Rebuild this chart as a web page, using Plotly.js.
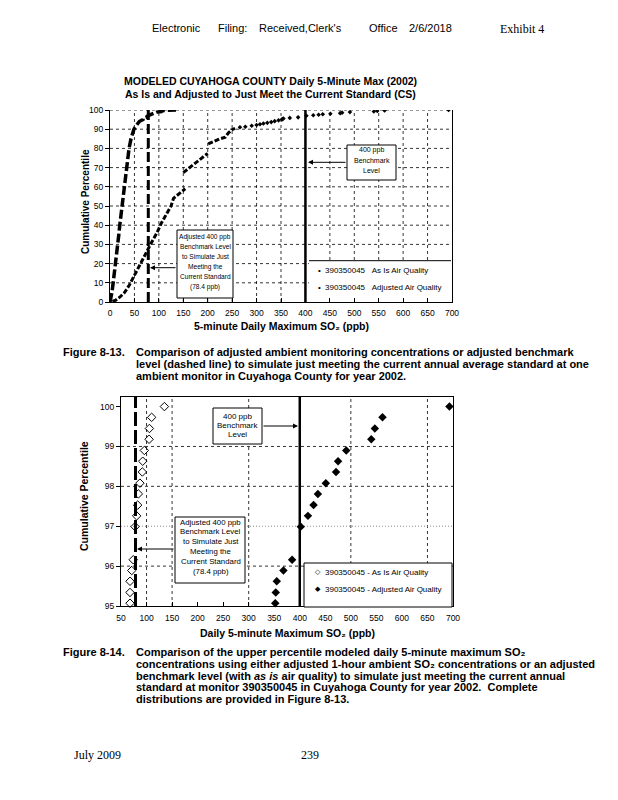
<!DOCTYPE html>
<html><head><meta charset="utf-8">
<script src="https://cdn.plot.ly/plotly-3.0.1.min.js"></script>
<style>html,body{margin:0;padding:0;background:#fff;}#chart{width:618px;height:800px;}</style>
</head><body><div id="chart"></div>
<script>
// ---------- data ----------
const benchAdj = 78.4;      // adjusted benchmark (ppb)
const bench = 400;          // benchmark (ppb)
const xTicks1 = [0,50,100,150,200,250,300,350,400,450,500,550,600,650,700];
const yTicks1 = [0,10,20,30,40,50,60,70,80,90,100];
const xTicks2 = [50,100,150,200,250,300,350,400,450,500,550,600,650,700];
const yTicks2 = [95,96,97,98,99,100];
const xGrid2 = [100,150,300,500,650];

// As Is air quality, lower part of distribution (figure 8-13)
const asIsLowX = [0, 2, 4, 6.5, 9, 12, 14, 16.5, 18, 20, 22.5, 25, 27, 29, 31, 33.5, 36, 39, 43, 46, 49, 54, 60];
const asIsLowY = [0, 2, 5, 10, 15, 20, 25, 30, 35, 40, 45, 50, 55, 60, 65, 70, 75, 80, 85, 88, 90, 92, 94];
// upper percentiles (figure 8-14)
const topPct   = [95.07, 95.34, 95.62, 95.89, 96.16, 96.99, 97.26, 97.53, 97.81, 98.08, 98.36, 98.63, 98.90, 99.18, 99.45, 99.73, 100];
const asIsTopX = [67.6, 67.6, 67.6, 71, 74, 77.5, 80.7, 82.6, 84, 87, 91.8, 92.5, 95.7, 105, 105.6, 110, 135];
const adjTopX  = [352, 353, 355, 368, 385, 402, 416, 427, 435.5, 451, 471, 475, 491, 540, 547, 562, 693];
// Adjusted air quality, lower part (segments separated by gaps)
const adjLowX = [5, 12, 20, 30, 40, 48, 55, 62, 70, 78, 85, 96, 105, 116, 125, 130, 145, 154, null, 150, 160, 171, 185, 200, null, 201, 215, 225, 236, 242, 250, 256];
const adjLowY = [0.3, 1, 2.5, 5, 9, 13, 16, 20, 24, 28, 31, 36, 41, 46, 50, 54, 57, 59, null, 67.4, 69.5, 71.4, 74.5, 77.4, null, 82.3, 84, 85, 85.8, 88, 89.7, 90.5];
const adjMidX = [266, 277, 290, 300, 307, 314, 322, 330, 337, 345];
const adjMidY = [91.0, 91.3, 91.8, 92.2, 92.6, 93.0, 93.3, 93.7, 94.2, 94.6];

// ---------- helpers ----------
const W = 618, H = 800;
const X = px => px / W, Y = py => 1 - py / H;
const F = 'Liberation Sans, Arial, sans-serif';
const FS = 'Liberation Serif, Times New Roman, serif';
const BLK = '#000';

const traces = [
  {x: asIsLowX.concat(asIsTopX), y: asIsLowY.concat(topPct), xaxis:'x', yaxis:'y', mode:'lines',
   line:{color:BLK, width:3.5, dash:'9px,3px'}, hoverinfo:'skip'},
  {x: adjLowX, y: adjLowY, xaxis:'x', yaxis:'y', mode:'lines', connectgaps:false,
   line:{color:BLK, width:3, dash:'5px,2px'}, hoverinfo:'skip'},
  {x: adjMidX.concat(adjTopX), y: adjMidY.concat(topPct), xaxis:'x', yaxis:'y', mode:'markers',
   marker:{symbol:'diamond', size:3.5, color:BLK}, hoverinfo:'skip'},
  {x: asIsTopX, y: topPct, xaxis:'x2', yaxis:'y2', mode:'markers', cliponaxis:false,
   marker:{symbol:'diamond-open', size:6.5, color:BLK, line:{width:1, color:BLK}}, hoverinfo:'skip'},
  {x: adjTopX, y: topPct, xaxis:'x2', yaxis:'y2', mode:'markers', cliponaxis:false,
   marker:{symbol:'diamond', size:6.5, color:BLK}, hoverinfo:'skip'}
];

const shapes = [];
const grid = {color:BLK, width:0.8, dash:'3px,3px'};
// chart 1 grid
yTicks1.filter(v => v > 0).forEach(v => shapes.push({type:'line', xref:'x', yref:'y', x0:0, x1:700, y0:v, y1:v, line:grid, layer:'below'}));
xTicks1.filter(v => v > 0 && v < 700).forEach(v => shapes.push({type:'line', xref:'x', yref:'y', x0:v, x1:v, y0:0, y1:100, line:grid, layer:'below'}));
// chart 1 legend background (hides grid) - same subplot layer as the grid
shapes.push({type:'rect', xref:'x', yref:'y', x0:407, x1:700, y0:0, y1:21.3, fillcolor:'#fff', line:{width:0}, layer:'below'});
// chart 2 grid
yTicks2.filter(v => v > 95 && v < 100).forEach(v => shapes.push({type:'line', xref:'x2', yref:'y2', x0:50, x1:700, y0:v, y1:v,
  line: v === 97 ? {color:'#8a8a8a', width:1, dash:'1px,2px'} : grid, layer:'below'}));
xGrid2.forEach(v => shapes.push({type:'line', xref:'x2', yref:'paper', x0:v, x1:v, y0:Y(606), y1:Y(397), line:grid, layer:'below'}));
// benchmark lines
shapes.push({type:'line', xref:'x', yref:'y', x0:benchAdj, x1:benchAdj, y0:0, y1:100, line:{color:BLK, width:3, dash:'10px,4px'}});
shapes.push({type:'line', xref:'x', yref:'y', x0:bench, x1:bench, y0:0, y1:100, line:{color:BLK, width:2.5}});
shapes.push({type:'line', xref:'x2', yref:'paper', x0:benchAdj, x1:benchAdj, y0:Y(606), y1:Y(397), line:{color:BLK, width:3, dash:'14px,4px'}});
shapes.push({type:'line', xref:'x2', yref:'paper', x0:bench, x1:bench, y0:Y(606), y1:Y(397), line:{color:BLK, width:2.5}});
// boxes
const box = (x0,y0,x1,y1) => shapes.push({type:'rect', xref:'paper', yref:'paper', x0:X(x0), x1:X(x1), y0:Y(y1), y1:Y(y0), fillcolor:'#fff', line:{color:BLK, width:1}});
box(177,230,233,298);
box(347,145,396,180);
box(175,517,245,583);
box(213,408,262,444);
box(304,563,452,607);
// chart 1 legend top line
shapes.push({type:'line', xref:'paper', yref:'paper', x0:X(309), x1:X(451), y0:Y(260.7), y1:Y(260.7), line:{color:BLK, width:1}});

const ann = [];
const txt = (t, x, y, o={}) => ann.push(Object.assign({text:t, x:X(x), y:Y(y), xref:'paper', yref:'paper', showarrow:false,
  xanchor:'left', yanchor:'middle', font:{family:F, size:11, color:BLK}}, o));
const lines = (arr, cx, y0, dy, size) => arr.forEach((t, i) => txt(t, cx, y0 + i * dy, {xanchor:'center', font:{family:F, size:size, color:BLK}}));
const arrow = (x, y, ax) => ann.push({text:'', x:X(x), y:Y(y), xref:'paper', yref:'paper', showarrow:true, ax:ax, ay:0,
  arrowhead:2, arrowsize:1, arrowwidth:1, arrowcolor:BLK});

// header
txt('Electronic', 150, 28);
txt('Filing:', 216, 28);
txt('Received,Clerk\'s', 257, 28);
txt('Office', 367, 28);
txt('2/6/2018', 407, 28);
txt('Exhibit 4', 498, 29, {font:{family:FS, size:12, color:BLK}});

// chart 1 titles
txt('<b>MODELED CUYAHOGA COUNTY Daily 5-Minute Max (2002)</b>', 270, 81.5, {xanchor:'center', font:{family:F, size:10.5, color:BLK}});
txt('<b>As Is and Adjusted to Just Meet the Current Standard (CS)</b>', 270, 94, {xanchor:'center', font:{family:F, size:10.5, color:BLK}});
txt('<b>Cumulative Percentile</b>', 86, 202, {xanchor:'center', textangle:-90, font:{family:F, size:10, color:BLK}});
txt('<b>5-minute Daily Maximum SO\u2082 (ppb)</b>', 281, 326, {xanchor:'center', font:{family:F, size:10.5, color:BLK}});
// chart 1 boxes
const boxAdjText = ['Adjusted 400 ppb', 'Benchmark Level', 'to Simulate Just', 'Meeting the', 'Current Standard', '(78.4 ppb)'];
const boxBenchText = ['400 ppb', 'Benchmark', 'Level'];
lines(boxAdjText, 205, 237, 9.9, 6.6);
lines(boxBenchText, 371.5, 150.3, 10.3, 7);
arrow(150, 267.7, 27);
arrow(308, 162.3, 39);
// chart 1 legend
txt('\u2022', 316, 270, {font:{family:F, size:8, color:BLK}});
txt('390350045\u00a0\u00a0\u00a0As Is Air Quality', 323, 270, {font:{family:F, size:8, color:BLK}});
txt('\u2022', 316, 287, {font:{family:F, size:8, color:BLK}});
txt('390350045\u00a0\u00a0\u00a0Adjusted Air Quality', 323, 287, {font:{family:F, size:8, color:BLK}});

// caption 8-13
const cap = {family:F, size:11, color:BLK};
txt('<b>Figure 8-13.</b>', 127, 351.5, {xanchor:'right', font:cap});
txt('<b>Comparison of adjusted ambient monitoring concentrations or adjusted benchmark</b>', 134, 351.5, {font:cap});
txt('<b>level (dashed line) to simulate just meeting the current annual average standard at one</b>', 134, 363.5, {font:cap});
txt('<b>ambient monitor in Cuyahoga County for year 2002.</b>', 134, 375.5, {font:cap});

// chart 2
txt('<b>Cumulative Percentile</b>', 84, 496, {xanchor:'center', textangle:-90, font:{family:F, size:10.5, color:BLK}});
txt('<b>Daily 5-minute Maximum SO\u2082 (ppb)</b>', 287.5, 633, {xanchor:'center', font:{family:F, size:10.5, color:BLK}});
lines(boxBenchText, 237.5, 416, 9.3, 8);
lines(boxAdjText, 210.5, 522, 9.87, 7.8);
arrow(298, 426, -36);
arrow(137, 549, 38);
txt('\u25C7', 313, 572.3, {font:{family:'DejaVu Sans', size:7, color:BLK}});
txt('390350045 - As Is Air Quality', 323, 572.3, {font:{family:F, size:8, color:BLK}});
txt('\u25C6', 313, 589.3, {font:{family:'DejaVu Sans', size:7, color:BLK}});
txt('390350045 - Adjusted Air Quality', 323, 589.3, {font:{family:F, size:8, color:BLK}});

// caption 8-14
txt('<b>Figure 8-14.</b>', 127, 652.3, {xanchor:'right', font:cap});
txt('<b>Comparison of the upper percentile modeled daily 5-minute maximum SO\u2082</b>', 134, 652.3, {font:cap});
txt('<b>concentrations using either adjusted 1-hour ambient SO\u2082 concentrations or an adjusted</b>', 134, 664, {font:cap});
txt('<b>benchmark level (with <i>as is</i> air quality) to simulate just meeting the current annual</b>', 134, 675.6, {font:cap});
txt('<b>standard at monitor 390350045 in Cuyahoga County for year 2002.\u00a0 Complete</b>', 134, 687.3, {font:cap});
txt('<b>distributions are provided in Figure 8-13.</b>', 134, 698.8, {font:cap});

// footer
txt('July 2009', 72, 755, {font:{family:FS, size:12, color:BLK}});
txt('239', 299, 755, {font:{family:FS, size:12, color:BLK}});

const axBase = {showgrid:false, zeroline:false, showline:true, linecolor:BLK, linewidth:1,
  tickcolor:BLK, ticklen:4, tickwidth:1, tickfont:{family:F, size:8.5, color:BLK}, fixedrange:true};

const layout = {
  width:W, height:H, margin:{l:0, r:0, t:0, b:0}, showlegend:false,
  paper_bgcolor:'#fff', plot_bgcolor:'#fff',
  xaxis: Object.assign({}, axBase, {domain:[X(110), X(452)], range:[0,700], anchor:'y', tickmode:'array', tickvals:xTicks1, ticks:'inside', mirror:false, ticklabelstandoff:3}),
  yaxis: Object.assign({}, axBase, {domain:[Y(302), Y(110)], range:[0,100], anchor:'x', tickmode:'array', tickvals:yTicks1, ticks:'outside', mirror:true}),
  xaxis2: Object.assign({}, axBase, {domain:[X(121), X(453)], range:[50,700], anchor:'y2', tickmode:'array', tickvals:xTicks2, ticks:'inside', mirror:true, ticklabelstandoff:4}),
  yaxis2: Object.assign({}, axBase, {domain:[Y(606), Y(397)], range:[95,100.24], anchor:'x2', tickmode:'array', tickvals:yTicks2, ticks:'outside', mirror:true}),
  shapes: shapes, annotations: ann
};
Plotly.newPlot('chart', traces, layout, {staticPlot:true, displayModeBar:false});
</script></body></html>
